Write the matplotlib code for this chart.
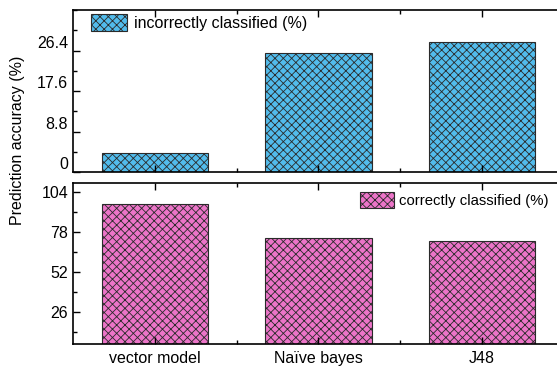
import matplotlib

matplotlib.use("Agg")
import matplotlib.pyplot as plt  # noqa: E402
from matplotlib.transforms import ScaledTranslation  # noqa: E402
from matplotlib.ticker import FixedLocator, MultipleLocator  # noqa: E402

plt.rcParams["font.family"] = ["Liberation Sans", "DejaVu Sans"]
plt.rcParams["hatch.linewidth"] = 0.6

# data
models = ["vector model", "Naïve bayes", "J48"]
incorrect = [4.1, 25.8, 28.2]
correct = [95.9, 74.2, 71.8]
top_ticks = [0, 8.8, 17.6, 26.4]
bot_ticks = [26, 52, 78, 104]

BLUE = "#52BCEC"
PINK = "#EC74C8"
EDGE = "#2a2a2a"
FS = 11.5

fig = plt.figure(figsize=(5.57, 3.67), dpi=100)
ax1 = fig.add_axes([0.1311, 0.5313, 0.8810, 0.4414])
ax2 = fig.add_axes([0.1311, 0.0619, 0.8810, 0.4403])

x = range(len(models))
ax1.bar(x, incorrect, width=0.65, color=BLUE, edgecolor=EDGE, linewidth=0.8,
        hatch="xxxx", label="incorrectly classified (%)")
ax2.bar(x, correct, width=0.65, color=PINK, edgecolor=EDGE, linewidth=0.8,
        hatch="xxxx", label="correctly classified (%)")

for ax in (ax1, ax2):
    ax.set_xlim(-0.5, 2.5)
    ax.set_xticks(list(x))
    ax.xaxis.set_minor_locator(FixedLocator([0.5, 1.5]))
    ax.tick_params(which="both", direction="in", top=True, right=True,
                   labelsize=FS, width=1.0, pad=3.5)
    ax.tick_params(which="major", length=5)
    ax.tick_params(which="minor", length=3)
    for s in ax.spines.values():
        s.set_linewidth(1.2)

ax1.set_ylim(0, 35.2)
ax1.yaxis.set_major_locator(FixedLocator(top_ticks))
ax1.yaxis.set_minor_locator(MultipleLocator(4.4))
ax1.set_yticklabels([f"{v:g}" for v in top_ticks])
ax1.tick_params(axis="x", labelbottom=False)
# the upper panel's labels sit a little above their ticks in the original
shift = ScaledTranslation(0, 9 / 100, fig.dpi_scale_trans)
for lab in ax1.get_yticklabels():
    lab.set_transform(lab.get_transform() + shift)

ax2.set_ylim(4.8, 109.9)
ax2.yaxis.set_major_locator(FixedLocator(bot_ticks))
ax2.yaxis.set_minor_locator(FixedLocator([13, 39, 65, 91]))
ax2.set_xticklabels(models)
ax2.tick_params(axis="x", which="major", pad=5)

leg_kw = dict(frameon=False, handlelength=2.25, handleheight=1.25,
              handletextpad=0.4, borderpad=0, borderaxespad=0, loc="upper left")
ax1.legend(bbox_to_anchor=(0.037, 0.975), fontsize=FS, **leg_kw)
ax2.legend(bbox_to_anchor=(0.585, 0.94), fontsize=10.7, **leg_kw)

fig.text(18 / 557, 1 - 140 / 367, "Prediction accuracy (%)", rotation=90,
         ha="center", va="center", fontsize=FS)

fig.savefig("out.png", dpi=100)
